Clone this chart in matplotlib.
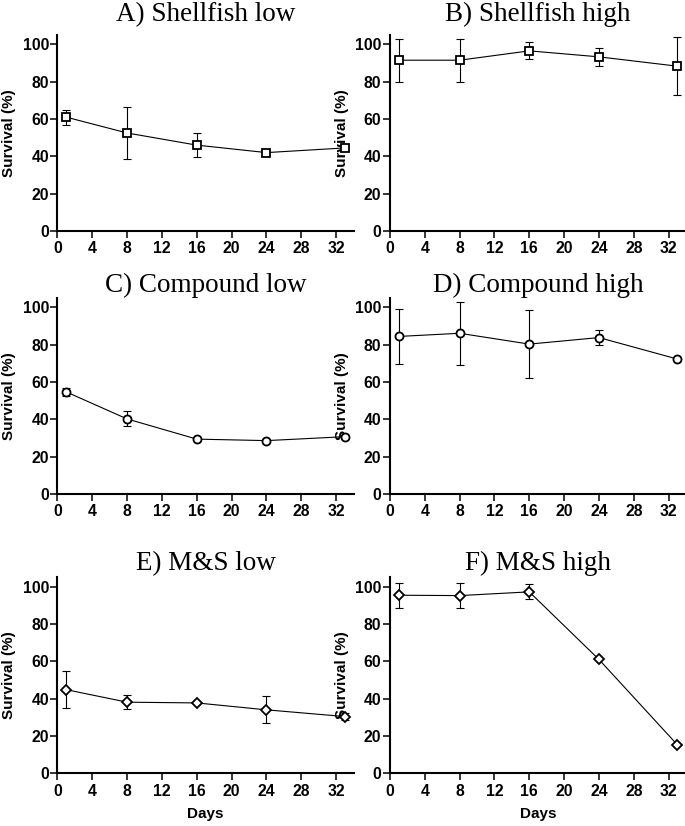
import matplotlib
matplotlib.use('Agg')
import matplotlib.pyplot as plt
import numpy as np

# Survival over time, six treatments
days = [1, 8, 16, 24, 33]

shellfish_low = [61.0, 52.5, 46.0, 42.0, 44.5]
shellfish_low_err = [4.0, 14.0, 6.6, 0.0, 1.5]
shellfish_high = [91.5, 91.5, 96.5, 93.3, 88.3]
shellfish_high_err = [11.5, 11.5, 4.5, 4.7, 15.7]

compound_low = [54.7, 40.2, 29.4, 28.6, 30.7]
compound_low_err = [2.0, 4.0, 0.0, 0.0, 1.0]
compound_high = [84.4, 86.1, 80.3, 83.8, 72.3]
compound_high_err = [14.7, 17.0, 18.4, 3.9, 0.0]

ms_low = [44.8, 38.1, 37.7, 34.0, 30.4]
ms_low_err = [9.8, 3.9, 0.0, 7.3, 2.0]
ms_high = [95.4, 95.2, 97.2, 61.0, 15.3]
ms_high_err = [6.6, 6.8, 4.0, 0.0, 0.0]

titles = ['A) Shellfish low', 'B) Shellfish high',
          'C) Compound low', 'D) Compound high',
          'E) M&S low', 'F) M&S high']
series = [shellfish_low, shellfish_high, compound_low, compound_high, ms_low, ms_high]
errors = [shellfish_low_err, shellfish_high_err, compound_low_err,
          compound_high_err, ms_low_err, ms_high_err]
markers = ['s', 's', 'o', 'o', 'D', 'D']
msizes = [5.6, 5.6, 5.8, 5.8, 4.6, 4.6]

xticks = [0, 4, 8, 12, 16, 20, 24, 28, 32]
yticks = [0, 20, 40, 60, 80, 100]

W, H = 685, 826
fig = plt.figure(figsize=(W / 100, H / 100), dpi=100)

tick_font = {'family': 'Liberation Sans', 'weight': 'bold', 'size': 11.3}
label_font = {'family': 'Liberation Sans', 'weight': 'bold', 'size': 11}
title_font = {'family': 'Liberation Serif', 'size': 19.5}

# axes boxes in pixels: left, bottom-of-axis (y=0 line)
col_left = [57.5, 390]
row_zero = [231, 494, 773.3]
ax_w, ax_h = 296, 196
title_pads = [10.3, 3.2, 5.3]

for i in range(6):
    r, c = divmod(i, 2)
    left = col_left[c] / W
    bottom = 1 - row_zero[r] / H
    ax = fig.add_axes([left, bottom, ax_w / W, ax_h / H])
    if c == 0:
        ax.set_zorder(3)
        ax.patch.set_visible(False)

    x = np.array(days)
    y = np.array(series[i])
    e = np.array(errors[i])
    m = e > 0
    ax.errorbar(x[m], y[m], yerr=e[m], fmt='none', ecolor='black',
                elinewidth=0.8, capsize=2.9, capthick=0.8, zorder=2)
    ax.plot(x, y, color='black', lw=0.8, marker=markers[i], ms=msizes[i],
            mfc='white', mec='black', mew=1.3, zorder=3, clip_on=False)

    ax.set_xlim(0, 34)
    ax.set_ylim(0, 105)
    ax.set_xticks(xticks)
    ax.set_yticks(yticks)
    ax.set_xticklabels([str(t) for t in xticks], fontdict=tick_font)
    ax.set_yticklabels([str(t) for t in yticks], fontdict=tick_font)
    ax.tick_params(direction='out', length=5, width=1.1, pad=1.2, color='black')
    ax.tick_params(axis='x', pad=2.5)
    ax.spines['top'].set_visible(False)
    ax.spines['right'].set_visible(False)
    ax.spines['left'].set_linewidth(1.5)
    ax.spines['bottom'].set_linewidth(1.5)

    ax.set_ylabel('Survival (%)', fontdict=label_font)
    ax.yaxis.set_label_coords(-0.14, 0.5)
    if r == 2:
        ax.set_xlabel('Days', fontdict=label_font, labelpad=6)

    ax.set_title(titles[i], fontdict=title_font, pad=title_pads[r])

plt.savefig('out.png', dpi=100, facecolor='white')
plt.close()
